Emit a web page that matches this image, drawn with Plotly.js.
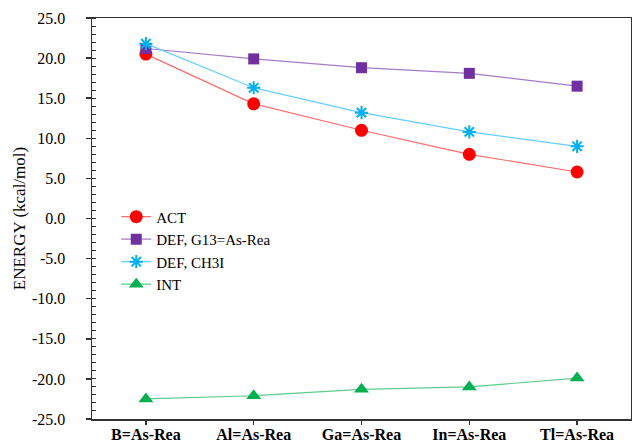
<!DOCTYPE html>
<html>
<head>
<meta charset="utf-8">
<script src="https://cdn.plot.ly/plotly-3.0.1.min.js"></script>
<style>html,body{margin:0;padding:0;background:#fff}#chart{width:632px;height:443px}</style>
</head>
<body>
<div id="chart"></div>
<script>
const categories = ["B=As-Rea", "Al=As-Rea", "Ga=As-Rea", "In=As-Rea", "Tl=As-Rea"];
const actValues = [20.5, 14.3, 11.0, 8.0, 5.8];
const defG13Values = [21.2, 19.9, 18.8, 18.1, 16.5];
const defCH3IValues = [21.8, 16.3, 13.2, 10.8, 9.0];
const intValues = [-22.5, -22.1, -21.3, -21.0, -19.9];
const seriesNames = ["ACT", "DEF, G13=As-Rea", "DEF, CH3I", "INT"];
const yTickVals = [-25, -20, -15, -10, -5, 0, 5, 10, 15, 20, 25];
const yTickText = yTickVals.map(v => v.toFixed(1));

const serif = "Liberation Serif, DejaVu Serif, serif";
const traces = [
  {x: categories, y: actValues, name: seriesNames[0], type: "scatter", mode: "lines+markers",
   line: {color: "#FF6B6B", width: 1.2}, marker: {symbol: "circle", size: 13, color: "#FF0000"}},
  {x: categories, y: defG13Values, name: seriesNames[1], type: "scatter", mode: "lines+markers",
   line: {color: "#A57BC8", width: 1.2}, marker: {symbol: "square", size: 11, color: "#7030A0"}},
  {x: categories, y: defCH3IValues, name: seriesNames[2], type: "scatter", mode: "lines+markers",
   line: {color: "#66CCFF", width: 1.2}, marker: {symbol: "asterisk-open", size: 11, color: "#00B0F0", line: {color: "#00B0F0", width: 2}}},
  {x: categories, y: intValues, name: seriesNames[3], type: "scatter", mode: "lines+markers",
   line: {color: "#5FCB8A", width: 1.2}, marker: {symbol: "triangle-up", size: 13, color: "#00B050"}}
];

const layout = {
  width: 632, height: 443,
  margin: {l: 92, r: 1, t: 18, b: 24},
  paper_bgcolor: "#fff", plot_bgcolor: "#fff",
  font: {family: serif, size: 16, color: "#000"},
  showlegend: true,
  legend: {x: 0.045, y: 0.545, xanchor: "left", yanchor: "top", bgcolor: "rgba(0,0,0,0)",
           font: {family: serif, size: 15, color: "#000"}, tracegroupgap: 0, itemwidth: 30},
  xaxis: {type: "category", range: [-0.5, 4.5], showgrid: false, zeroline: false,
          showline: true, linecolor: "#333", linewidth: 1.5, mirror: true,
          ticks: "outside", ticklen: 4, tickcolor: "#333", tickwidth: 1.5,
          ticklabelstandoff: -4,
          tickfont: {family: serif, size: 16, color: "#000", weight: "bold"}},
  yaxis: {range: [-25, 25], showgrid: false, zeroline: false,
          showline: true, linecolor: "#333", linewidth: 1.5, mirror: true,
          tickvals: yTickVals, ticktext: yTickText,
          ticks: "outside", ticklen: 5, tickcolor: "#333", tickwidth: 1.5,
          ticklabelstandoff: 17,
          minor: {dtick: 1, ticks: "inside", ticklen: 4, tickcolor: "#333", tickwidth: 1},
          tickfont: {family: serif, size: 16, color: "#000"},
          title: {text: "ENERGY (kcal/mol)", font: {family: serif, size: 17, color: "#000"}, standoff: 2}}
};

Plotly.newPlot("chart", traces, layout, {displayModeBar: false, staticPlot: true});
</script>
</body>
</html>
